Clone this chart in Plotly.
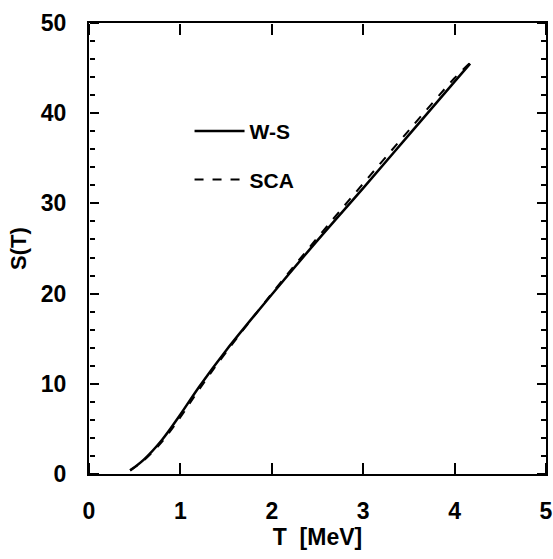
import plotly.graph_objects as go

T_ws = [0.45, 0.6, 0.8, 1.0, 1.2, 1.5, 2.0, 2.5, 3.0, 3.5, 4.0, 4.17]
S_ws = [0.4, 1.6, 3.8, 6.6, 9.6, 13.7, 19.9, 25.9, 31.7, 37.6, 43.5, 45.5]
T_sca = [0.45, 0.6, 0.8, 1.0, 1.2, 1.5, 2.0, 2.5, 3.0, 3.5, 4.0, 4.17]
S_sca = [0.4, 1.5, 3.6, 6.3, 9.3, 13.5, 20.0, 26.2, 32.2, 38.1, 43.9, 45.6]

x_ticks = [0, 1, 2, 3, 4, 5]
y_ticks = [0, 10, 20, 30, 40, 50]
y_minor_step = 2

FONT = "Liberation Sans, Arial, sans-serif"
X_RANGE = [0, 5]
Y_RANGE = [0, 50]

fig = go.Figure()
fig.add_trace(go.Scatter(x=T_ws, y=S_ws, mode="lines", name="<b>W-S</b>", legendgroup="a",
                         line=dict(color="black", width=2.5, shape="spline")))
fig.add_trace(go.Scatter(x=T_sca, y=S_sca, mode="lines", name="<b>SCA</b>", legendgroup="b",
                         line=dict(color="black", width=2, dash="dash", shape="spline")))
# invisible carriers so the tick-only overlay axes (inward ticks) are drawn
fig.add_trace(go.Scatter(x=T_ws, y=S_ws, xaxis="x2", yaxis="y2", mode="lines",
                         line=dict(width=0, color="rgba(0,0,0,0)"), showlegend=False, hoverinfo="skip"))
fig.add_trace(go.Scatter(x=T_ws, y=S_ws, xaxis="x3", yaxis="y3", mode="lines",
                         line=dict(width=0, color="rgba(0,0,0,0)"), showlegend=False, hoverinfo="skip"))

tick_common = dict(showticklabels=False, showline=False, showgrid=False, zeroline=False,
                   ticks="outside", tickwidth=2, tickcolor="black")

fig.update_layout(
    template="none",
    width=553, height=559,
    margin=dict(l=89, r=7, t=23, b=85),
    paper_bgcolor="white", plot_bgcolor="white",
    font=dict(family=FONT, color="black", size=23),
    showlegend=True,
    legend=dict(x=0.22, y=0.805, xanchor="left", yanchor="top",
                bgcolor="rgba(0,0,0,0)", font=dict(size=21, family=FONT),
                tracegroupgap=18, itemwidth=50),
    xaxis=dict(
        range=X_RANGE, tickmode="array", tickvals=x_ticks, ticktext=[f"<b>{v}</b>" for v in x_ticks],
        showline=True, linecolor="black", linewidth=2, mirror=True, ticks="",
        showgrid=False, zeroline=False, ticklabelstandoff=15,
        title=dict(text="<b>T  [MeV]</b>", font=dict(size=23, family=FONT), standoff=4),
    ),
    yaxis=dict(
        range=Y_RANGE, tickmode="array", tickvals=y_ticks, ticktext=[f"<b>{v}</b>" for v in y_ticks],
        showline=True, linecolor="black", linewidth=2, mirror=True, ticks="",
        showgrid=False, zeroline=False, ticklabelstandoff=16,
        title=dict(text="<b>S(T)</b>", font=dict(size=22, family=FONT), standoff=8),
    ),
    # bottom-edge axis with ticks pointing up (inside)
    xaxis2=dict(overlaying="x", side="top", anchor="free", position=0, range=X_RANGE,
                tickmode="array", tickvals=x_ticks, ticklen=11, **tick_common),
    # top-edge axis with ticks pointing down (inside)
    xaxis3=dict(overlaying="x", side="bottom", anchor="free", position=1, range=X_RANGE,
                tickmode="array", tickvals=x_ticks, ticklen=11, **tick_common),
    # left-edge axis with ticks pointing right (inside)
    yaxis2=dict(overlaying="y", side="right", anchor="free", position=0, range=Y_RANGE,
                tickmode="array", tickvals=y_ticks, ticklen=9,
                minor=dict(dtick=y_minor_step, ticks="outside", ticklen=5, tickwidth=1.5,
                           tickcolor="black", showgrid=False),
                **tick_common),
    # right-edge axis with ticks pointing left (inside)
    yaxis3=dict(overlaying="y", side="left", anchor="free", position=1, range=Y_RANGE,
                tickmode="array", tickvals=y_ticks, ticklen=9,
                minor=dict(dtick=y_minor_step, ticks="outside", ticklen=5, tickwidth=1.5,
                           tickcolor="black", showgrid=False),
                **tick_common),
)

fig.write_html("out.html")
